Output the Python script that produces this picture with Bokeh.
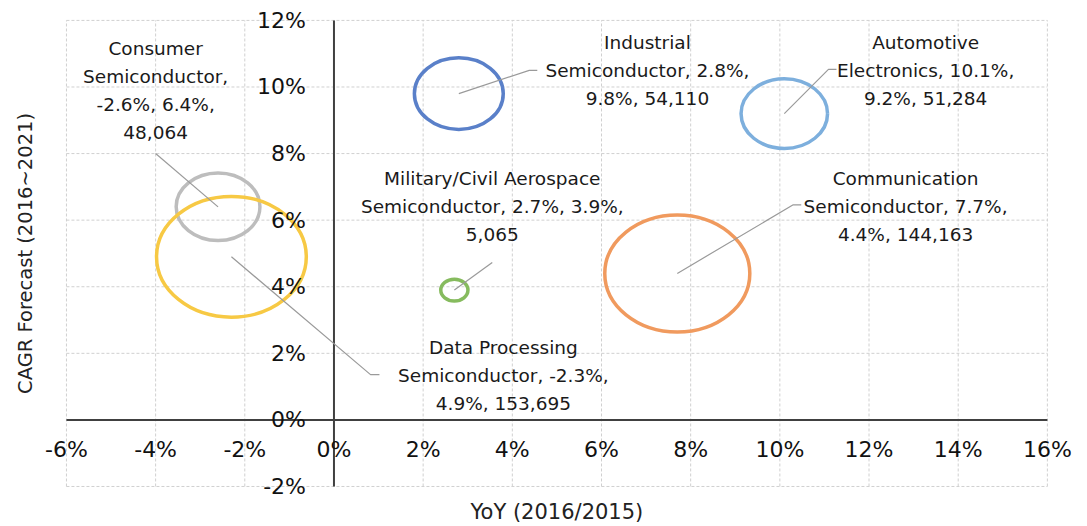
import math
from bokeh.plotting import figure
from bokeh.models import ColumnDataSource, LabelSet, Label, Range1d
from bokeh.core.properties import value
from bokeh.embed import file_html
from bokeh.resources import INLINE

# ---- data ----
segments = ["Consumer Semiconductor", "Data Processing Semiconductor",
            "Military/Civil Aerospace Semiconductor", "Industrial Semiconductor",
            "Automotive Electronics", "Communication Semiconductor"]
yoy = [-2.6, -2.3, 2.7, 2.8, 10.1, 7.7]          # YoY (2016/2015), %
cagr = [6.4, 4.9, 3.9, 9.8, 9.2, 4.4]            # CAGR forecast (2016~2021), %
market = [48064, 153695, 5065, 54110, 51284, 144163]
label_templates = [
    "Consumer\nSemiconductor,\n{x}, {y},\n{s}",
    "Data Processing\nSemiconductor, {x},\n{y}, {s}",
    "Military/Civil Aerospace\nSemiconductor, {x}, {y},\n{s}",
    "Industrial\nSemiconductor, {x},\n{y}, {s}",
    "Automotive\nElectronics, {x},\n{y}, {s}",
    "Communication\nSemiconductor, {x},\n{y}, {s}",
]
x_ticks = [-6, -4, -2, 0, 2, 4, 6, 8, 10, 12, 14, 16]
y_ticks = [-2, 0, 2, 4, 6, 8, 10, 12]
x_tick_labels = [f"{t}%" for t in x_ticks]
y_tick_labels = [f"{t}%" for t in y_ticks]

# ---- layout (annotation positions, data units) ----
label_pos_x = [-4.00, 3.80, 3.55, 7.03, 13.27, 12.82]
label_pos_y = [9.89, 1.32, 6.41, 10.50, 10.50, 6.41]
leader_end_x = [-4.00, 0.82, 3.55, 4.38, 11.09, 10.30]
leader_end_y = [8.00, 1.36, 4.73, 10.50, 10.53, 6.46]
leader_tail = [0.0, 0.20, 0.0, 0.18, 0.18, 0.18]

colors = ["#BDBDBD", "#F7C944", "#86BB5E", "#5A80C9", "#7DAFDD", "#F09A5E"]
FONT = "DejaVu Sans"
LINE_STEP = 28  # px between label lines

def fmt_pct(v):
    return f"{v:.1f}%"

labels = [t.format(x=fmt_pct(a), y=fmt_pct(b), s=f"{c:,}")
          for t, a, b, c in zip(label_templates, yoy, cagr, market)]

k = 0.191
ratio = 1.24
widths = [2 * k * math.sqrt(v) for v in market]
heights = [w / ratio for w in widths]

xmin, xmax = x_ticks[0], x_ticks[-1]
ymin, ymax = y_ticks[0], y_ticks[-1]

# frame covers the whole canvas; the visible plot box is drawn from the tick arrays
p = figure(width=1087, height=526, x_range=Range1d(-7.479, 16.900), y_range=Range1d(-3.202, 12.598),
           output_backend="svg", toolbar_location=None,
           min_border_left=0, min_border_right=0, min_border_top=0, min_border_bottom=0)
p.axis.visible = False
p.grid.visible = False
p.outline_line_color = None
p.background_fill_color = "white"
p.border_fill_color = "white"

GRID = dict(line_color="#d0d0d0", line_dash="3 2", line_width=1)
p.segment(x0=x_ticks, y0=[ymin] * len(x_ticks), x1=x_ticks, y1=[ymax] * len(x_ticks), **GRID)
p.segment(x0=[xmin] * len(y_ticks), y0=y_ticks, x1=[xmax] * len(y_ticks), y1=y_ticks, **GRID)

# axes lines crossing at zero
p.segment(x0=[0, xmin], y0=[ymin, 0], x1=[0, xmax], y1=[ymax, 0], line_color="#404040", line_width=2)

# bubbles
src = ColumnDataSource(dict(x=yoy, y=cagr, w=widths, h=heights, c=colors))
p.ellipse(x="x", y="y", width="w", height="h", width_units="screen", height_units="screen",
          fill_color=None, line_color="c", line_width=3.5, source=src)

# leader lines
xs, ys = [], []
for cx, cy, ex, ey, t in zip(yoy, cagr, leader_end_x, leader_end_y, leader_tail):
    if t:
        xs.append([cx, ex, ex + t]); ys.append([cy, ey, ey])
    else:
        xs.append([cx, ex]); ys.append([cy, ey])
p.multi_line(xs=xs, ys=ys, line_color="#9a9a9a", line_width=1.2)

# bubble labels, one centred row per line
rows = dict(x=[], y=[], yo=[], t=[])
for lx, ly, text in zip(label_pos_x, label_pos_y, labels):
    lines = text.split("\n")
    n = len(lines)
    for j, line in enumerate(lines):
        rows["x"].append(lx); rows["y"].append(ly)
        rows["yo"].append(-(j - (n - 1) / 2) * LINE_STEP)
        rows["t"].append(line)
p.add_layout(LabelSet(x="x", y="y", y_offset="yo", text="t", source=ColumnDataSource(rows),
                      text_align="center", text_baseline="middle", text_font=value(FONT),
                      text_font_size="18.5px", text_color="#1a1a1a"))

# tick labels
xt = ColumnDataSource(dict(x=x_ticks, y=[0] * len(x_ticks), t=x_tick_labels))
yt = ColumnDataSource(dict(x=[0] * len(y_ticks), y=y_ticks, t=y_tick_labels))
p.add_layout(LabelSet(x="x", y="y", text="t", source=xt, text_align="center",
                      text_baseline="middle", y_offset=-30, text_font=value(FONT),
                      text_font_size="22px", text_color="#111111"))
p.add_layout(LabelSet(x="x", y="y", text="t", source=yt, text_align="right",
                      text_baseline="middle", x_offset=-28, text_font=value(FONT),
                      text_font_size="22px", text_color="#111111"))

# axis titles
p.add_layout(Label(x=(xmin + xmax) / 2, y=ymin, y_offset=-26, text="YoY (2016/2015)",
                   text_align="center", text_baseline="middle", text_font=FONT,
                   text_font_size="21px", text_color="#222222"))
p.add_layout(Label(x=xmin, y=(ymin + ymax) / 2, x_offset=-41, text="CAGR Forecast (2016~2021)",
                   angle=math.pi / 2, text_align="center", text_baseline="middle",
                   text_font=FONT, text_font_size="19.5px", text_color="#222222"))

open("out.html", "w").write(file_html(p, INLINE))
